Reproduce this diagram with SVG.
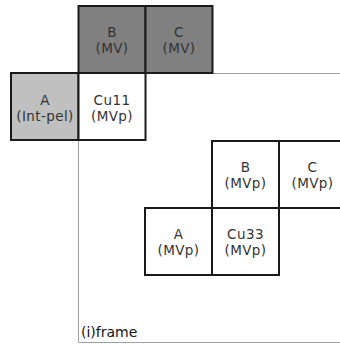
<svg xmlns="http://www.w3.org/2000/svg" width="340" height="344" viewBox="0 0 340 344">
<style>
.cell{stroke:#1a1a1a;stroke-width:2;}
.w{fill:#ffffff;}
.d{fill:#808080;}
.l{fill:#c0c0c0;}
.frame{fill:none;stroke:#a0a0a0;stroke-width:1;}
text{font-family:"DejaVu Sans","Liberation Sans",sans-serif;font-size:13.5px;letter-spacing:0.4px;fill:#333;text-anchor:middle;}
</style>
<rect width="340" height="344" fill="#ffffff"/>
<g id="connectors">
<polyline class="frame" points="212,73.5 340,73.5"/>
<polyline class="frame" points="78.5,140 78.5,342.5 340,342.5"/>
</g>
<g id="B1"><rect class="cell d" x="78.5" y="6" width="67" height="67"/><text x="112" y="37">B</text><text x="112" y="53">(MV)</text></g>
<g id="C1"><rect class="cell d" x="145.5" y="6" width="67" height="67"/><text x="179" y="37">C</text><text x="179" y="53">(MV)</text></g>
<g id="A1"><rect class="cell l" x="11" y="73" width="67.5" height="67"/><text x="45" y="105">A</text><text x="45" y="121">(Int-pel)</text></g>
<g id="Cu11"><rect class="cell w" x="78.5" y="73" width="67" height="67"/><text x="112" y="105">Cu11</text><text x="112" y="121">(MVp)</text></g>
<g id="B2"><rect class="cell w" x="212" y="141" width="67" height="67"/><text x="245.5" y="172">B</text><text x="245.5" y="188">(MVp)</text></g>
<g id="C2"><rect class="cell w" x="279" y="141" width="67" height="67"/><text x="312.5" y="172">C</text><text x="312.5" y="188">(MVp)</text></g>
<g id="A2"><rect class="cell w" x="145" y="208" width="67" height="67"/><text x="178.5" y="239">A</text><text x="178.5" y="255">(MVp)</text></g>
<g id="Cu33"><rect class="cell w" x="212" y="208" width="67" height="67"/><text x="245.5" y="239">Cu33</text><text x="245.5" y="255">(MVp)</text></g>
<g id="label"><text x="81" y="337" style="text-anchor:start;font-size:14px;letter-spacing:0;fill:#111">(i)frame</text></g>
</svg>
